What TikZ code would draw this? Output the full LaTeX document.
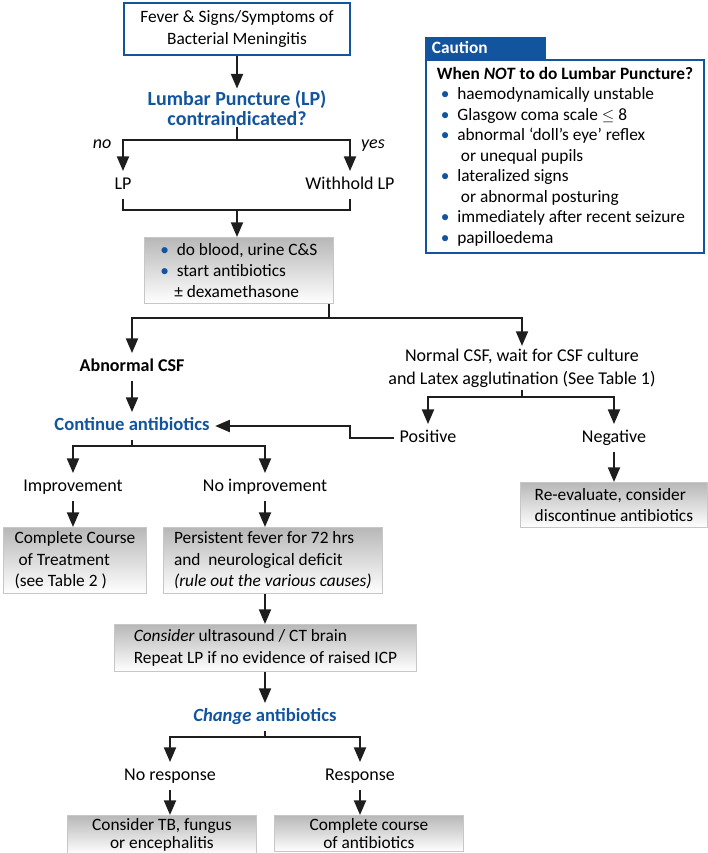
\documentclass[tikz,border=0pt]{standalone}
\usepackage{fontspec}
\setmainfont{Carlito}
\usetikzlibrary{arrows.meta}
\definecolor{cblue}{RGB}{18,84,158}
\definecolor{cline}{RGB}{30,30,30}
\newcommand{\txt}{\fontsize{13.5}{16}\selectfont}
\newcommand{\boxtxt}{\fontsize{13}{16}\selectfont}
\newcommand{\bul}{{\color{cblue}\textbullet}\hspace{0.45em}}

\begin{document}
\begin{tikzpicture}[x=0.75pt,y=-0.75pt,
  font=\txt,
  line/.style={draw=cline,line width=1.5pt},
  arr/.style={line,-{Triangle[length=11pt,width=9pt]}},
  lbl/.style={inner sep=4pt,text height=9.5pt,text depth=3pt},
  ask/.style={text=cblue,font=\fontsize{14}{16}\selectfont\bfseries,align=center},
  gbox/.style={draw=black!22,line width=0.6pt,top color=black!28,bottom color=white,
    anchor=north west,align=left,inner xsep=3pt,inner ysep=3pt,font=\boxtxt},
  ]
  \useasboundingbox (0,0) rectangle (707,853);

  % top part
  \node[draw=cblue,line width=1.5pt,minimum width=170pt,minimum height=39pt,align=center,
    font=\fontsize{13}{16.5}\selectfont] (fever) at (237,29) {Fever \& Signs/Symptoms of\\Bacterial Meningitis};
  \node[ask,font=\fontsize{15}{15.5}\selectfont\bfseries,inner sep=1pt] (lpq) at (237,108) {Lumbar Puncture (LP)\\contraindicated?};
  \node[lbl,font=\txt\itshape] (no) at (102,144) {no};
  \node[lbl,font=\txt\itshape] (yes) at (373,144) {yes};
  \node[lbl] (lp) at (123,185) {LP};
  \node[lbl] (wh) at (350,185) {Withhold LP};
  \node[gbox,minimum width=141.75pt,minimum height=49.5pt] (abx) at (144,237)
    {\bul do blood, urine C\&S\\\bul start antibiotics\\\hspace*{10.5pt}± dexamethasone};

  \coordinate (f1) at (237,140);
  \coordinate (f2) at (237,210);
  \coordinate (f3) at (329,318);
  \draw[arr] (fever) -- (lpq);
  \draw[line] (lpq) -- (f1);
  \draw[arr] (f1) -| (lp);
  \draw[arr] (f1) -| (wh);
  \draw[line] (lp) |- (f2);
  \draw[line] (wh) |- (f2);
  \draw[arr] (f2) -- (f2 |- abx.north);
  \draw[line] (abx.south -| f3) -- (f3);

  % caution box
  \node[draw=cblue,line width=1.5pt,anchor=north west,minimum width=208.5pt,minimum height=144.75pt,
    inner xsep=2pt,inner ysep=3pt,align=left,font=\fontsize{13}{15.4}\selectfont]
    (why) at (425,59)
    {\textbf{When \textit{NOT} to do Lumbar Puncture?}\\
     \hspace*{3pt}\bul haemodynamically unstable\\
     \hspace*{3pt}\bul Glasgow coma scale $\le$ 8\\
     \hspace*{3pt}\bul abnormal ‘doll’s eye’ reflex\\
     \hspace*{18pt}or unequal pupils\\
     \hspace*{3pt}\bul lateralized signs\\
     \hspace*{18pt}or abnormal posturing\\
     \hspace*{3pt}\bul immediately after recent seizure\\
     \hspace*{3pt}\bul papilloedema};
  \node[fill=cblue,text=white,font=\fontsize{13}{14}\selectfont\bfseries,anchor=south west,
    text width=80.75pt,inner xsep=5pt,minimum height=16.5pt,align=left] (caution) at (why.north west) {Caution};

  % csf branches
  \node[lbl,font=\txt\bfseries] (abn) at (132,367) {Abnormal CSF};
  \node[align=center,inner sep=2pt,font=\fontsize{13.5}{17}\selectfont] (norm) at (522,368)
    {Normal CSF, wait for CSF culture\\and Latex agglutination (See Table 1)};
  \draw[arr] (f3) -| (abn);
  \draw[arr] (f3) -| (norm);

  \node[ask,lbl] (cont) at (132,426) {Continue antibiotics};
  \draw[arr] (abn) -- (cont);

  \node[lbl] (pos) at (428,438) {Positive};
  \node[lbl] (neg) at (614,438) {Negative};
  \coordinate (f5) at (522,397);
  \coordinate (back) at (350,432);
  \draw[line] (norm) -- (f5);
  \draw[arr] (f5) -| (pos);
  \draw[arr] (f5) -| (neg);
  \draw[arr] (pos.west) -| (back) |- (cont.east);
  \node[gbox,minimum width=140.25pt,minimum height=33.75pt] (rev) at (520,482)
    {Re-evaluate, consider\\discontinue antibiotics};
  \draw[arr] (neg) -- (neg |- rev.north);

  % improvement or not
  \node[lbl] (imp) at (73,487) {Improvement};
  \node[lbl] (noimp) at (265,487) {No improvement};
  \coordinate (f4) at (132,446);
  \draw[line] (cont) -- (f4);
  \draw[arr] (f4) -| (imp);
  \draw[arr] (f4) -| (noimp);
  \node[gbox,minimum width=107.25pt,minimum height=49.5pt] (course) at (3,527)
    {Complete Course\\\hspace*{3pt}of Treatment\\(see Table 2 )};
  \node[gbox,minimum width=164.25pt,minimum height=49.5pt] (fever72) at (163,527)
    {Persistent fever for 72 hrs\\and\ \ neurological deficit\\\textit{(rule out the various causes)}};
  \draw[arr] (imp) -- (imp |- course.north);
  \draw[arr] (noimp) -- (noimp |- fever72.north);

  \node[gbox,minimum width=226.5pt,minimum height=35.25pt] (ctscan) at (114,624)
    {\textit{Consider} ultrasound / CT brain\\Repeat LP if no evidence of raised ICP};
  \draw[arr] (noimp |- fever72.south) -- (noimp |- ctscan.north);

  \node[ask,lbl] (chg) at (265,717) {\textit{Change} antibiotics};
  \draw[arr] (noimp |- ctscan.south) -- (chg);

  \node[lbl] (nores) at (170,776) {No response};
  \node[lbl] (res) at (360,776) {Response};
  \coordinate (f6) at (265,737);
  \draw[line] (chg) -- (f6);
  \draw[arr] (f6) -| (nores);
  \draw[arr] (f6) -| (res);
  \node[gbox,minimum width=141.75pt,inner ysep=2pt,align=center,font=\fontsize{13}{14}\selectfont] (tbfun) at (67,815)
    {Consider TB, fungus\\or encephalitis};
  \node[gbox,minimum width=141.75pt,inner ysep=2pt,align=center,font=\fontsize{13}{14}\selectfont] (full) at (274,815)
    {Complete course\\of antibiotics};
  \draw[arr] (nores) -- (nores |- tbfun.north);
  \draw[arr] (res) -- (res |- full.north);
\end{tikzpicture}
\end{document}
